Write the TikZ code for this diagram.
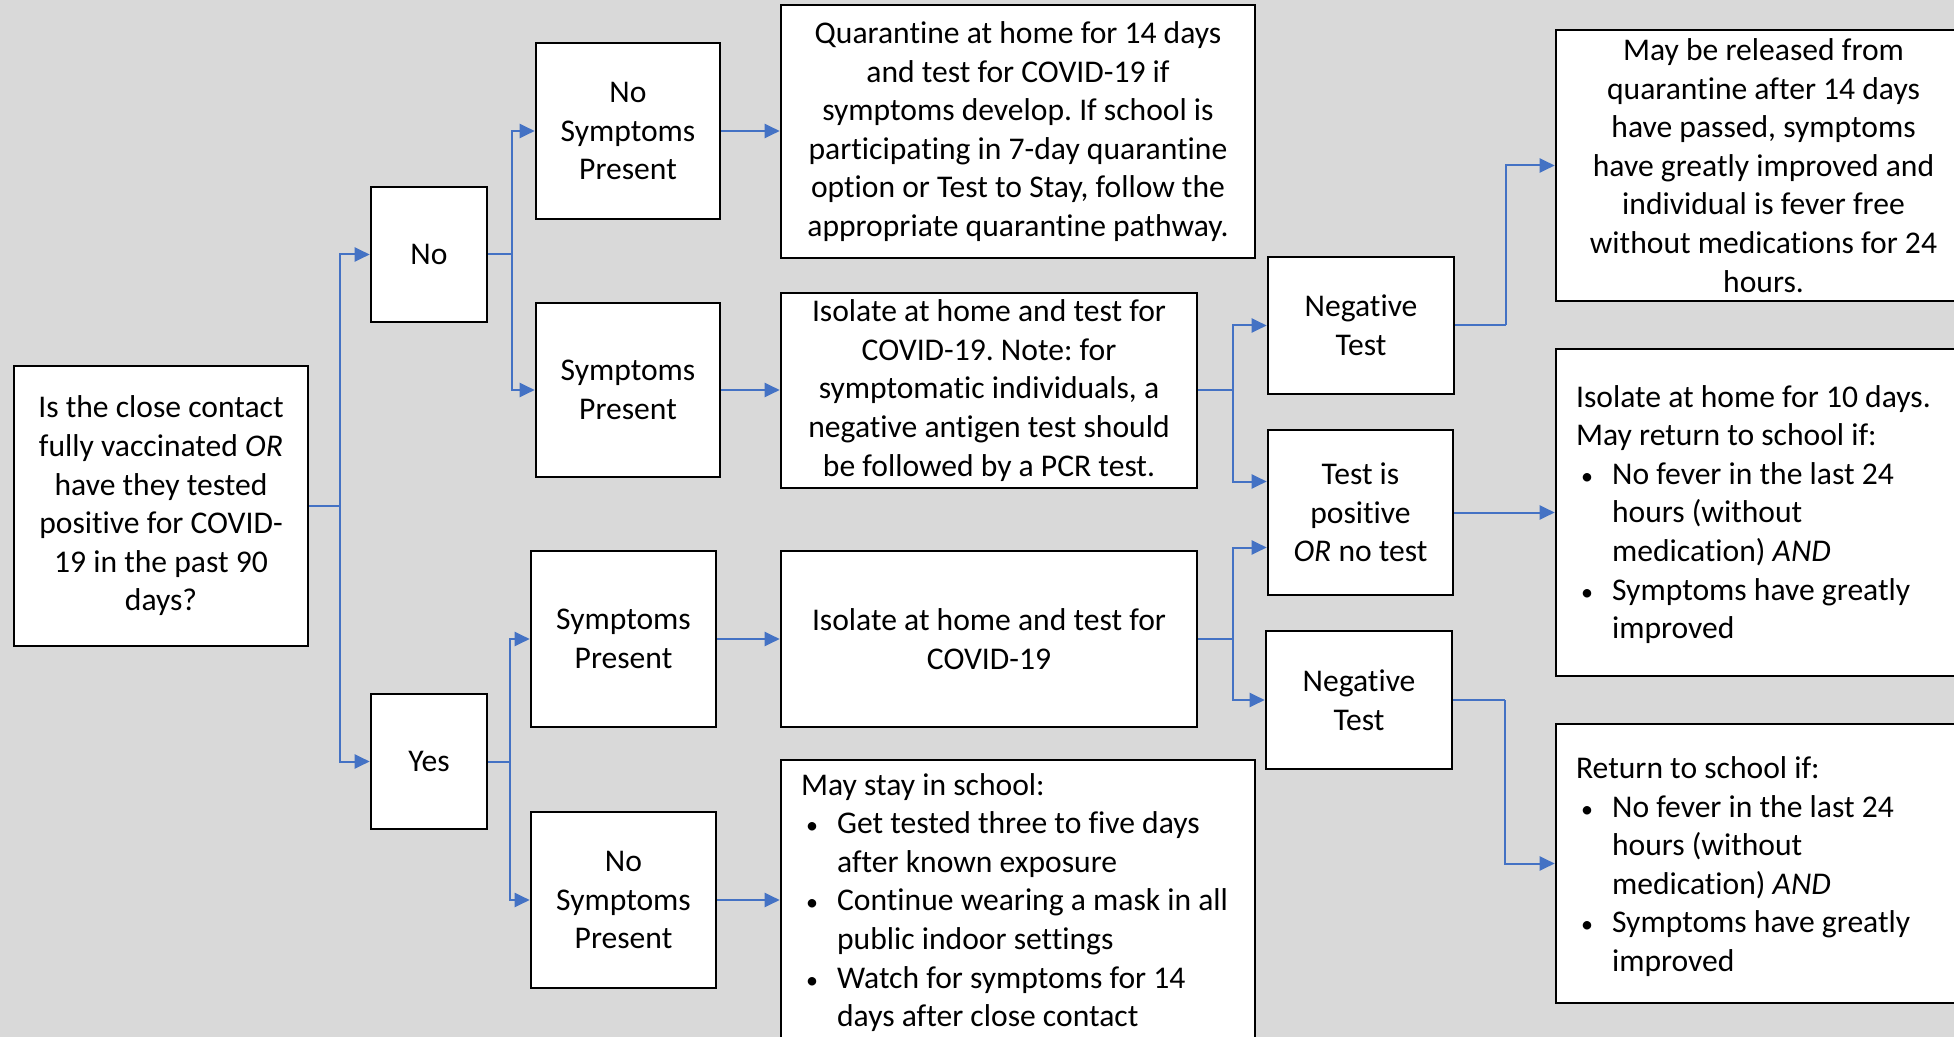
\documentclass[tikz,border=0pt]{standalone}
\usepackage{fontspec}
\setmainfont{Carlito}[Ligatures=NoCommon]
\usetikzlibrary{arrows.meta,calc}
\definecolor{bg}{HTML}{D9D9D9}
\definecolor{myblue}{HTML}{4472C4}
\tikzset{
  box/.style={draw=black, fill=white, line width=1.3pt, inner sep=0pt, align=center,
    font=\fontsize{15.8pt}{19.3pt}\selectfont},
  txt/.style={inner sep=0pt, align=left, anchor=west, font=\fontsize{15.8pt}{19.3pt}\selectfont},
  conn/.style={draw=myblue, line width=1pt, -{Triangle[length=7.5pt,width=7pt]}},
  link/.style={draw=myblue, line width=1pt}
}
\newcommand\bx[6]{\node[box,minimum width={(#4-#2)*0.5pt},minimum height={(#5-#3)*0.5pt}] (#1) at ({(#2+#4)/2},{(#3+#5)/2}) {#6};}
\newcommand\bi{\makebox[18pt][l]{\hspace{2.5pt}{\fontsize{12pt}{12pt}\selectfont\textbullet}}}
\newcommand\bc{\hspace*{18pt}}
\frenchspacing
\begin{document}
\begin{tikzpicture}[x=0.5pt,y=-0.5pt]
\useasboundingbox (0,0) rectangle (1954,1037);
\fill[bg] (0,0) rectangle (1954,1037);
\clip (0,0) rectangle (1954,1037);

\bx{Q}{14}{366}{308}{646}{Is the close contact\\fully vaccinated \textit{OR}\\have they tested\\positive for COVID-\\19 in the past 90\\days?}
\bx{No}{371}{187}{487}{322}{No}
\bx{Yes}{371}{694}{487}{829}{Yes}
\bx{NSa}{536}{43}{720}{219}{No\\Symptoms\\Present}
\bx{Sa}{536}{303}{720}{477}{Symptoms\\Present}
\bx{Sb}{531}{551}{716}{727}{Symptoms\\Present}
\bx{NSb}{531}{812}{716}{988}{No\\Symptoms\\Present}
\bx{Quar}{781}{5}{1255}{258}{Quarantine at home for 14 days\\and test for COVID-19 if\\symptoms develop. If school is\\participating in 7-day quarantine\\option or Test to Stay, follow the\\appropriate quarantine pathway.}
\bx{Isoa}{781}{293}{1197}{488}{Isolate at home and test for\\COVID-19. Note: for\\symptomatic individuals, a\\negative antigen test should\\be followed by a PCR test.}
\bx{Isob}{781}{551}{1197}{727}{Isolate at home and test for\\COVID-19}
\bx{Stay}{781}{760}{1255}{1045}{}
\bx{Nega}{1268}{257}{1454}{394}{Negative\\Test}
\bx{Pos}{1268}{430}{1453}{595}{Test is\\positive\\\textit{OR} no test}
\bx{Negb}{1266}{631}{1452}{769}{Negative\\Test}
\bx{Rel}{1556}{30}{1971}{301}{May be released from\\quarantine after 14 days\\have passed, symptoms\\have greatly improved and\\individual is fever free\\without medications for 24\\hours.}
\bx{Iso10}{1556}{349}{1971}{676}{}
\bx{Ret}{1556}{724}{1971}{1003}{}

\node[txt] (StayT) at ($(Stay.west)+(21,0)$) {May stay in school:\\
\bi Get tested three to five days\\
\bc after known exposure\\
\bi Continue wearing a mask in all\\
\bc public indoor settings\\
\bi Watch for symptoms for 14\\
\bc days after close contact};
\node[txt] (Iso10T) at ($(Iso10.west)+(21,2)$) {Isolate at home for 10 days.\\
May return to school if:\\
\bi No fever in the last 24\\
\bc hours (without\\
\bc medication) \textit{AND}\\
\bi Symptoms have greatly\\
\bc improved};
\node[txt] (RetT) at ($(Ret.west)+(21,3)$) {Return to school if:\\
\bi No fever in the last 24\\
\bc hours (without\\
\bc medication) \textit{AND}\\
\bi Symptoms have greatly\\
\bc improved};

% connectors
\coordinate (t1) at ($(Q.east)+(31,0)$);
\draw[link] (Q.east) -- (t1);
\draw[conn] (t1) |- (No.west);
\draw[conn] (t1) |- (Yes.west);

\coordinate (t2) at ($(No.east)+(24,0)$);
\draw[link] (No.east) -- (t2);
\draw[conn] (t2) |- (NSa.west);
\draw[conn] (t2) |- (Sa.west);

\coordinate (t3) at ($(Yes.east)+(22,0)$);
\draw[link] (Yes.east) -- (t3);
\draw[conn] (t3) |- (Sb.west);
\draw[conn] (t3) |- (NSb.west);

\draw[conn] (NSa.east) -- (NSa.east -| Quar.west);
\draw[conn] (Sa.east) -- (Sa.east -| Isoa.west);
\draw[conn] (Sb.east) -- (Sb.east -| Isob.west);
\draw[conn] (NSb.east) -- (NSb.east -| Stay.west);

\coordinate (t4) at ($(Isoa.east)+(35,0)$);
\coordinate (pa) at ($(Pos.west)+(0,-31)$);
\draw[link] (Isoa.east) -- (t4);
\draw[conn] (t4) |- (Nega.west);
\draw[conn] (t4) |- (pa);

\coordinate (t5) at ($(Isob.east)+(35,0)$);
\coordinate (pb) at ($(Pos.west)+(0,35)$);
\draw[link] (Isob.east) -- (t5);
\draw[conn] (t5) |- (pb);
\draw[conn] (t5) |- (Negb.west);

\coordinate (t6) at ($(Nega.east)+(51,0)$);
\draw[link] (Nega.east) -- (t6);
\draw[conn] (t6) |- (Rel.west);

\draw[conn] (Pos.east) -- (Pos.east -| Iso10.west);

\coordinate (t7) at ($(Negb.east)+(52,0)$);
\draw[link] (Negb.east) -- (t7);
\draw[conn] (t7) |- (Ret.west);
\end{tikzpicture}
\end{document}
